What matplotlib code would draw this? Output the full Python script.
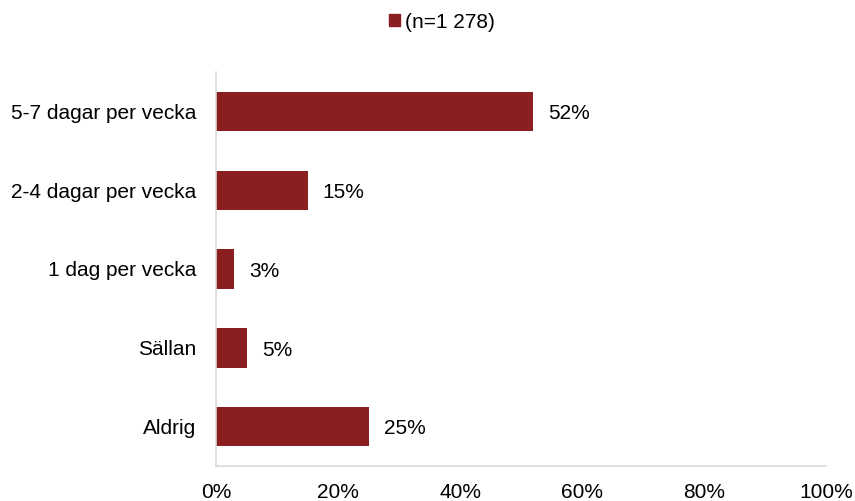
import numpy as np
import matplotlib.pyplot as plt
from matplotlib.patches import Patch

plt.rcParams['font.family'] = ['Liberation Sans', 'DejaVu Sans']

categories = ['5-7 dagar per vecka', '2-4 dagar per vecka', '1 dag per vecka', 'Sällan', 'Aldrig']
values = [52, 15, 3, 5, 25]
series_name = '(n=1 278)'
xticks = [0, 20, 40, 60, 80, 100]

color = '#8B1E1F'
fs = 15

fig = plt.figure(figsize=(8.55, 5.01), dpi=100)
ax = fig.add_axes([216/855, 35/501, 610/855, 394/501])

y = np.arange(len(categories))
ax.barh(y, values, height=0.5, color=color)
ax.set_ylim(len(categories)-0.5, -0.5)
ax.set_xlim(0, 100)
ax.set_yticks(y)
ax.set_yticklabels(categories, fontsize=fs)
ax.set_xticks(xticks)
ax.set_xticklabels([f'{t}%' for t in xticks], fontsize=fs)
ax.tick_params(axis='y', length=0, pad=14)
ax.tick_params(axis='x', length=0, pad=12)

for s in ['top', 'right']:
    ax.spines[s].set_visible(False)
for s in ['left', 'bottom']:
    ax.spines[s].set_color('#D9D9D9')
    ax.spines[s].set_linewidth(1.2)

for yi, v in zip(y, values):
    ax.text(v + 2.5, yi + 0.03, f'{v}%', va='center', ha='left', fontsize=fs)

fig.legend(handles=[Patch(color=color)], labels=[series_name], loc='center',
           bbox_to_anchor=(442/855, 1 - 22/501), frameon=False, fontsize=fs,
           handlelength=0.55, handleheight=0.55, handletextpad=0.25)

fig.savefig('out.png', dpi=100)
